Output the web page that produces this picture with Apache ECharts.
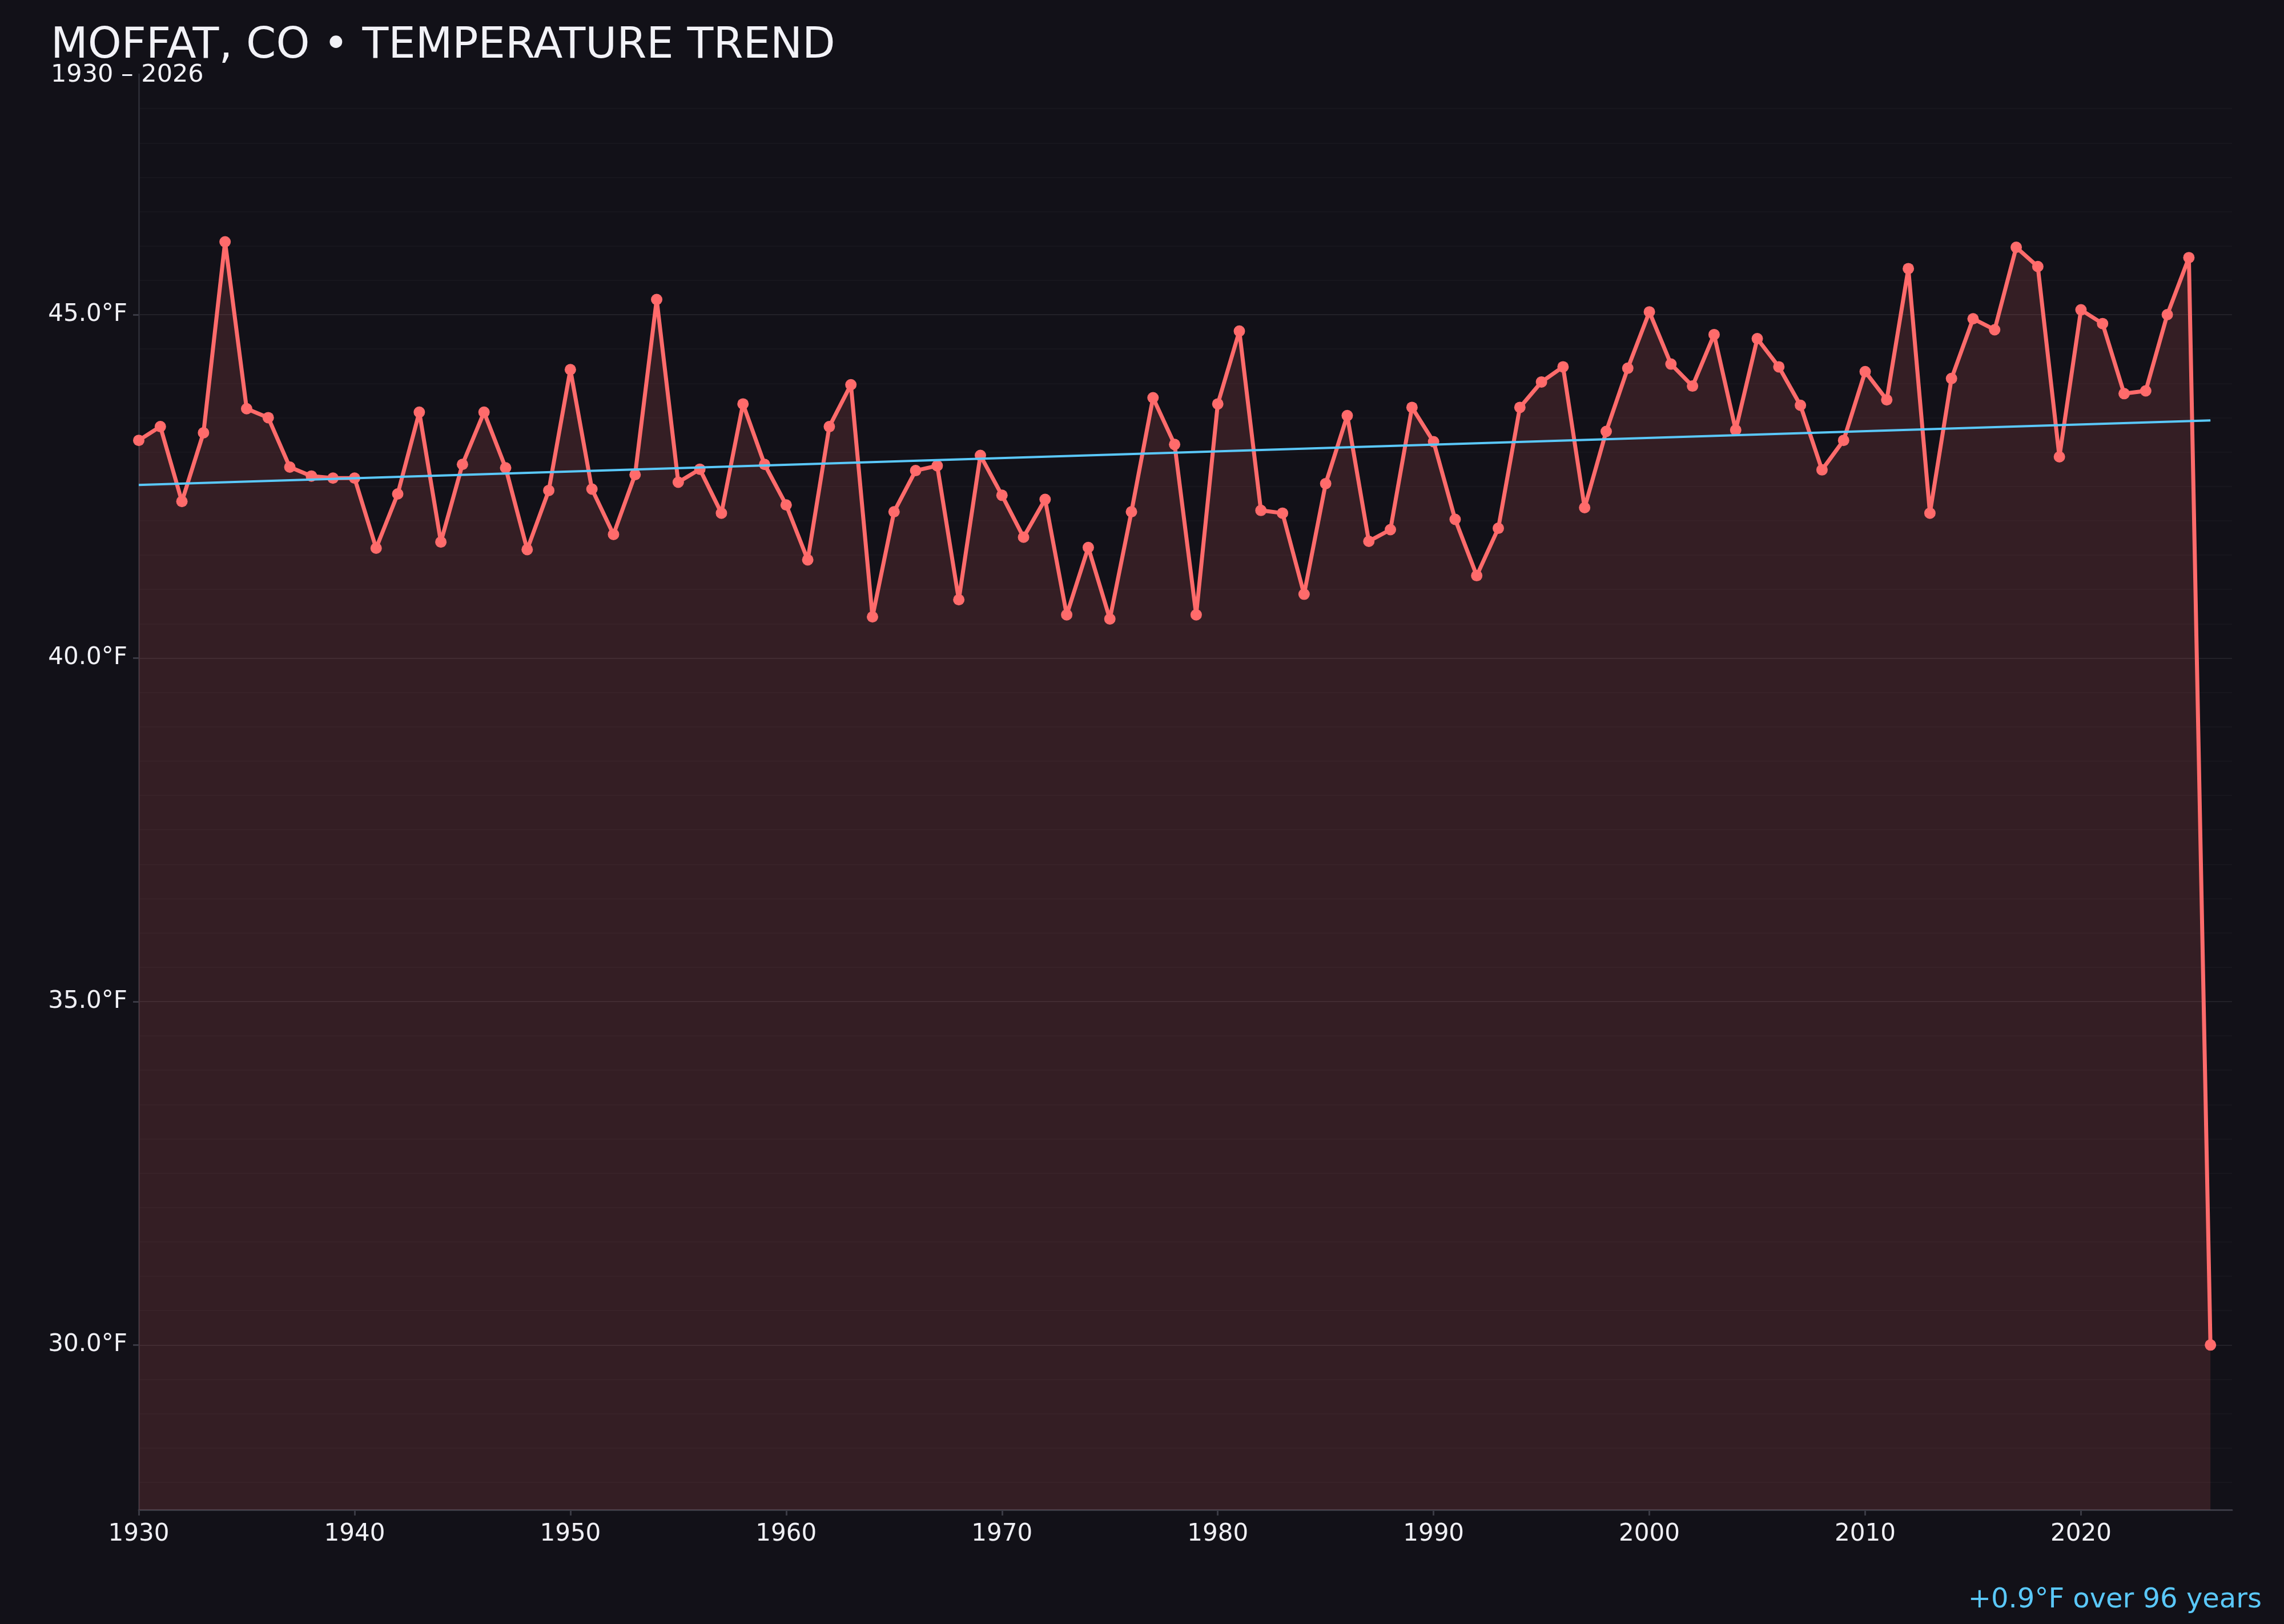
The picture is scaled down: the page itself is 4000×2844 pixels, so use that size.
<!DOCTYPE html>
<html>
<head>
<meta charset="utf-8">
<script src="https://cdn.jsdelivr.net/npm/echarts@6/dist/echarts.min.js"></script>
<style>
html,body{margin:0;padding:0;background:#121118;}
#chart{width:4000px;height:2844px;}
</style>
</head>
<body>
<div id="chart"></div>
<script>
// ---- data ----
const years = [1930,1931,1932,1933,1934,1935,1936,1937,1938,1939,
  1940,1941,1942,1943,1944,1945,1946,1947,1948,1949,
  1950,1951,1952,1953,1954,1955,1956,1957,1958,1959,
  1960,1961,1962,1963,1964,1965,1966,1967,1968,1969,
  1970,1971,1972,1973,1974,1975,1976,1977,1978,1979,
  1980,1981,1982,1983,1984,1985,1986,1987,1988,1989,
  1990,1991,1992,1993,1994,1995,1996,1997,1998,1999,
  2000,2001,2002,2003,2004,2005,2006,2007,2008,2009,
  2010,2011,2012,2013,2014,2015,2016,2017,2018,2019,
  2020,2021,2022,2023,2024,2025,2026];
const temps = [43.17,43.37,42.28,43.28,46.06,43.63,43.50,42.78,42.65,42.62,
  42.62,41.60,42.39,43.58,41.69,42.82,43.58,42.77,41.58,42.44,
  44.20,42.46,41.80,42.67,45.22,42.56,42.75,42.11,43.70,42.82,
  42.23,41.43,43.37,43.98,40.60,42.13,42.73,42.80,40.85,42.95,
  42.37,41.76,42.31,40.63,41.61,40.57,42.13,43.79,43.11,40.63,
  43.70,44.76,42.15,42.11,40.93,42.54,43.53,41.70,41.87,43.65,
  43.15,42.02,41.20,41.89,43.65,44.02,44.24,42.19,43.30,44.22,
  45.04,44.28,43.96,44.71,43.32,44.65,44.24,43.68,42.74,43.17,
  44.17,43.76,45.67,42.11,44.07,44.94,44.78,45.98,45.70,42.93,
  45.07,44.87,43.85,43.89,45.00,45.83,30.00];
const trendYears = [1930, 2026];
const trendTemps = [42.52, 43.46];
const xTickYears = [1930,1940,1950,1960,1970,1980,1990,2000,2010,2020];
const yTickTemps = [30,35,40,45];
const titleText = 'MOFFAT, CO \u2022 TEMPERATURE TREND';
const subtitleText = '1930 \u2013 2026';
const trendLabel = '+0.9\u00B0F over 96 years';

// ---- chart ----
const FONT = 'DejaVu Sans';
const chart = echarts.init(document.getElementById('chart'), null, {renderer: 'canvas'});
const option = {
  backgroundColor: '#121118',
  animation: false,
  title: [
    {text: titleText, left: 89, top: 44, padding: 0,
     textStyle: {color: '#f2f2f7', fontSize: 75, fontWeight: 'normal', fontFamily: FONT}},
    {text: subtitleText, left: 89, top: 110, padding: 0,
     textStyle: {color: '#f2f2f7', fontSize: 43, fontWeight: 'normal', fontFamily: FONT}},
    {text: trendLabel, right: 39, top: 2779, padding: 0,
     textStyle: {color: '#5ac8fa', fontSize: 48, fontWeight: 'normal', fontFamily: FONT}}
  ],
  grid: {left: 243, right: 91, top: 130, bottom: 200},
  xAxis: {
    type: 'value', min: 1930, max: 2027, interval: 10,
    axisLine: {show: true, lineStyle: {color: '#3a3a44', width: 3}},
    axisTick: {show: true, length: 10, customValues: xTickYears, lineStyle: {color: '#3a3a44', width: 3}},
    axisLabel: {color: '#f0f0f5', fontSize: 42, fontFamily: FONT, margin: 22,
                customValues: xTickYears, formatter: v => String(v)},
    splitLine: {show: false}
  },
  yAxis: {
    type: 'value', min: 27.6, max: 48.5,
    axisLine: {show: true, lineStyle: {color: '#2a2a33', width: 3}},
    axisTick: {show: true, length: 10, customValues: yTickTemps, lineStyle: {color: '#3a3a44', width: 3}},
    axisLabel: {color: '#f0f0f5', fontSize: 42, fontFamily: FONT, margin: 20,
                customValues: yTickTemps, formatter: v => v.toFixed(1) + '\u00B0F'},
    splitLine: {show: true, lineStyle: {color: 'rgba(255,255,255,0.07)', width: 2}},
    minorTick: {show: false, splitNumber: 10},
    minorSplitLine: {show: true, lineStyle: {color: 'rgba(255,255,255,0.025)', width: 2}}
  },
  series: [
    {
      type: 'line',
      data: years.map((y, i) => [y, temps[i]]),
      symbol: 'circle', symbolSize: 20, showSymbol: true,
      lineStyle: {color: '#ff6b6b', width: 7},
      itemStyle: {color: '#ff6b6b'},
      areaStyle: {color: '#ff6b6b', opacity: 0.145, origin: 'start'},
      z: 2
    },
    {
      type: 'line',
      data: trendYears.map((y, i) => [y, trendTemps[i]]),
      symbol: 'none',
      lineStyle: {color: '#5ac8fa', width: 4},
      z: 3
    }
  ]
};
chart.setOption(option);
</script>
</body>
</html>
